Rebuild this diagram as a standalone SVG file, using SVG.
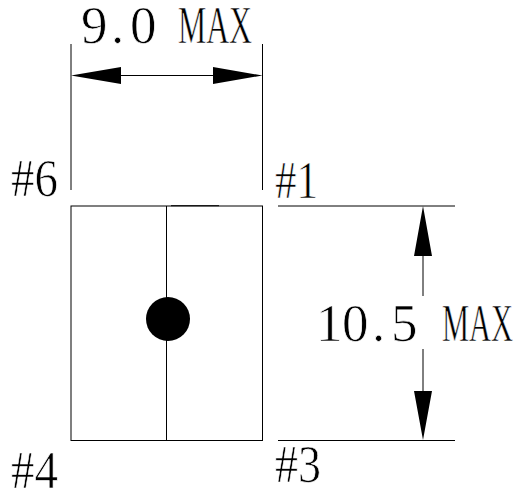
<svg xmlns="http://www.w3.org/2000/svg" width="517" height="493" viewBox="0 0 517 493">
<style>
.l{stroke:#000;stroke-width:1;fill:none}
.h{fill:#000;stroke:none}
text{font-family:"Liberation Serif","Times New Roman",serif;font-size:53px;fill:#000;stroke:#fff;stroke-width:.7px}
</style>
<rect width="517" height="493" fill="#fff"/>
<g id="connectors">
<path class="l" d="M71 44V190M262.500 44V190M121 75.500H213M278 206H455M278 440.500H455M423 256V296M423 349V391"/>
<path class="h" d="M71 75.500L121 67V84ZM262.500 75.500L213 67V84ZM423 206L414 256H432ZM423 440L414 391H432Z"/>
</g>
<g id="body">
<rect class="l" x="71" y="206" width="191.500" height="234.500"/>
<path class="l" d="M166.500 206V440M171 205.700H219"/>
<circle class="h" cx="168" cy="319" r="22"/>
</g>
<g id="labels">
<text y="43" x="81 111 130">9.0 <tspan x="178" textLength="74" lengthAdjust="spacingAndGlyphs">MAX</tspan></text>
<text y="341" x="316 342 372 391">10.5 <tspan x="442" textLength="71" lengthAdjust="spacingAndGlyphs">MAX</tspan></text>
<text x="11" y="196" textLength="47" lengthAdjust="spacingAndGlyphs">#6</text>
<text x="275" y="198" textLength="43" lengthAdjust="spacingAndGlyphs">#1</text>
<text x="11" y="488" textLength="47" lengthAdjust="spacingAndGlyphs">#4</text>
<text x="275" y="482" textLength="46" lengthAdjust="spacingAndGlyphs">#3</text>
</g>
</svg>
